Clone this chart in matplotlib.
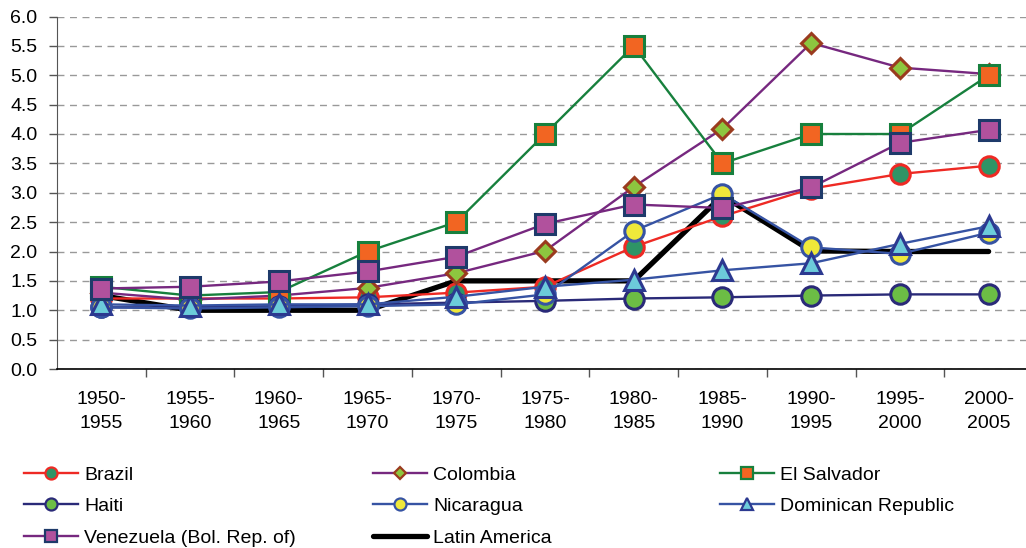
import matplotlib
matplotlib.use("Agg")
import matplotlib.pyplot as plt
from matplotlib.lines import Line2D

plt.rcParams['font.family'] = ['Liberation Sans', 'DejaVu Sans']

Periods = ["1950-\n1955", "1955-\n1960", "1960-\n1965", "1965-\n1970", "1970-\n1975", "1975-\n1980",
           "1980-\n1985", "1985-\n1990", "1990-\n1995", "1995-\n2000", "2000-\n2005"]

Brazil = [1.2, 1.2, 1.2, 1.22, 1.3, 1.4, 2.08, 2.6, 3.07, 3.32, 3.46]
Colombia = [1.3, 1.18, 1.25, 1.38, 1.63, 2.01, 3.1, 4.09, 5.55, 5.13, 5.02]
El_Salvador = [1.4, 1.25, 1.31, 2.0, 2.5, 4.0, 5.5, 3.5, 4.0, 4.0, 5.0]
Haiti = [1.05, 1.05, 1.07, 1.1, 1.13, 1.16, 1.2, 1.22, 1.25, 1.27, 1.27]
Nicaragua = [1.05, 1.03, 1.05, 1.07, 1.1, 1.27, 2.35, 2.98, 2.07, 1.96, 2.32]
Dominican = [1.1, 1.08, 1.1, 1.1, 1.23, 1.4, 1.52, 1.68, 1.8, 2.13, 2.43]
Venezuela = [1.37, 1.4, 1.49, 1.66, 1.91, 2.47, 2.8, 2.74, 3.09, 3.85, 4.07]
Latin_America = [1.25, 1.0, 1.0, 1.0, 1.5, 1.5, 1.5, 2.95, 2.01, 2.0, 2.0]

Yticks = [0.0, 0.5, 1.0, 1.5, 2.0, 2.5, 3.0, 3.5, 4.0, 4.5, 5.0, 5.5, 6.0]

# (name, values, line colour, marker, face, edge, marker size)
Series = [
    ("Latin America", Latin_America, "#000000", None, None, None, 0),
    ("Brazil", Brazil, "#EE2A24", "o", "#2E9466", "#EE2A24", 14),
    ("Colombia", Colombia, "#76287F", "D", "#8DC63F", "#9A3B1E", 10.5),
    ("El Salvador", El_Salvador, "#17803D", "s", "#F26522", "#17803D", 14),
    ("Haiti", Haiti, "#2A2A78", "o", "#6CBD45", "#2A2A78", 14),
    ("Nicaragua", Nicaragua, "#3653A3", "o", "#EFE83A", "#3653A3", 14),
    ("Dominican Republic", Dominican, "#3653A3", "^", "#6CCBDA", "#2C3990", 14),
    ("Venezuela (Bol. Rep. of)", Venezuela, "#76287F", "s", "#B1519D", "#1E3A6A", 14),
]

fig = plt.figure(figsize=(10.26, 5.48), dpi=100)
ax = fig.add_axes([57/1026, 179/548, 976/1026, 352.5/548])

x = list(range(len(Periods)))
handles = {}
for i, (name, vals, lc, mk, fc, ec, ms) in enumerate(Series):
    if mk is None:
        ax.plot(x, vals, color=lc, lw=3.8, solid_capstyle='round', zorder=2)
        handles[name] = Line2D([], [], color=lc, lw=3.8, solid_capstyle='round')
    else:
        ax.plot(x, vals, color=lc, lw=1.7, marker=mk, markersize=ms, markerfacecolor=fc,
                markeredgecolor=ec, markeredgewidth=2.2, zorder=3+i)
        handles[name] = Line2D([], [], color=lc, lw=1.7, marker=mk, markersize=ms*0.62,
                               markerfacecolor=fc, markeredgecolor=ec, markeredgewidth=1.6)

ax.set_xlim(-0.5, len(Periods)-0.5)
ax.set_ylim(0, 6.0)
ax.set_yticks(Yticks)
ax.set_yticklabels(["%.1f" % v for v in Yticks], fontsize=14)
ax.yaxis.grid(True, linestyle=(0, (5, 4)), color="#999999", lw=1.0)
ax.set_axisbelow(True)

ax.set_xticks(x)
ax.set_xticklabels(Periods, fontsize=14, linespacing=1.5)
ax.set_xticks([i + 0.5 for i in x], minor=True)
ax.tick_params(axis='x', which='major', length=0, pad=16)
ax.tick_params(axis='x', which='minor', length=6, width=1, color="#555555", direction='out')
ax.tick_params(axis='y', length=6, width=1, color="#555555", direction='out', pad=8)

for s in ['top', 'right']:
    ax.spines[s].set_visible(False)
ax.spines['left'].set_color("#555555")
ax.spines['bottom'].set_color("#000000")
ax.spines['bottom'].set_linewidth(1.2)

# legend in three columns under the chart
cols = [["Brazil", "Haiti", "Venezuela (Bol. Rep. of)"],
        ["Colombia", "Nicaragua", "Latin America"],
        ["El Salvador", "Dominican Republic"]]
col_x = [24/1026, 373/1026, 720/1026]
for names, cx in zip(cols, col_x):
    leg = fig.legend([handles[n] for n in names], names, loc='upper left',
                     bbox_to_anchor=(cx, 1 - 466/548), frameon=False, fontsize=14,
                     handlelength=2.8, handletextpad=0.3, labelspacing=0.72, borderpad=0,
                     borderaxespad=0)

plt.savefig("out.png", dpi=100)
